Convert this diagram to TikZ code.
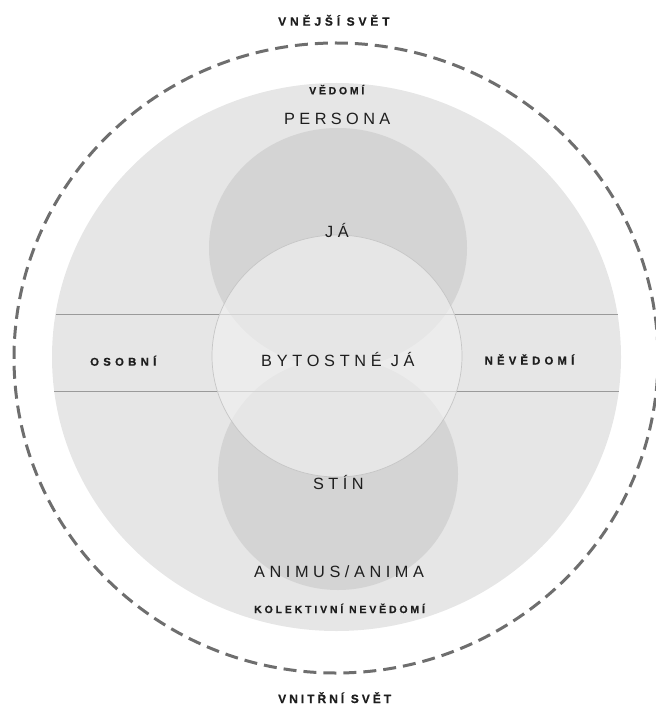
\documentclass[tikz,border=0pt]{standalone}
\usepackage{fontspec}
\setmainfont{Liberation Sans}
\definecolor{bigc}{HTML}{E6E6E6}
\definecolor{darkc}{HTML}{D4D4D4}
\definecolor{midc}{HTML}{F0F0F0}
\definecolor{midline}{HTML}{C6C6C6}
\definecolor{dashc}{HTML}{6E6E6E}
\definecolor{txt}{HTML}{1E1E1E}
\definecolor{linec}{HTML}{9A9A9A}
\tikzset{
  smallbold/.style={text=txt, anchor=base west, inner sep=0pt},
  bigtext/.style={text=txt, anchor=base west, inner sep=0pt},
  divider/.style={draw=linec, line width=0.9pt},
  ring/.style={draw=dashc, line width=3pt, dash pattern=on 13pt off 7pt}
}
\newcommand\wsp{\kern0.55em\relax}
\begin{document}
\begin{tikzpicture}[x=1pt,y=-1pt]
\useasboundingbox (0,0) rectangle (655,711);
% big circle
\fill[bigc] (336.5,357) ellipse [x radius=284.5, y radius=274];
% upper and lower circles
\fill[darkc] (338,248) ellipse [x radius=129, y radius=120];
\fill[darkc] (338,474) ellipse [x radius=120, y radius=116];
% dividers
\draw[divider] (55.5,314) -- (617.5,314);
\draw[divider] (54.2,391) -- (618.8,391);
% middle circle
\filldraw[fill=midc, fill opacity=0.65, draw=midline, line width=0.7pt] (337,356) ellipse [x radius=125, y radius=121];
% outer dashed ring
\draw[ring] (336,358) ellipse [x radius=322, y radius=315];
% texts
\node[smallbold, font=\fontsize{12}{14}\selectfont\bfseries\addfontfeature{LetterSpace=32,FakeBold=0.5}] (outer) at (278,25.7) {VNĚJŠÍ\wsp SVĚT};
\node[smallbold, font=\fontsize{10.5}{12}\selectfont\bfseries\addfontfeature{LetterSpace=26,FakeBold=0.5}] (vedomi) at (309,94.3) {VĚDOMÍ};
\node[bigtext, font=\fontsize{16.3}{19}\selectfont\addfontfeature{LetterSpace=27}] (persona) at (284,124.3) {PERSONA};
\node[bigtext, font=\fontsize{16.3}{19}\selectfont\addfontfeature{LetterSpace=27}] (ja) at (325,237) {JÁ};
\node[smallbold, font=\fontsize{11.3}{12}\selectfont\bfseries\addfontfeature{LetterSpace=38,FakeBold=0.5}] (osobni) at (90,365.7) {OSOBNÍ};
\node[bigtext, font=\fontsize{16.3}{19}\selectfont\addfontfeature{LetterSpace=29}] (self) at (261,366) {BYTOSTNÉ\wsp JÁ};
\node[smallbold, font=\fontsize{11.3}{12}\selectfont\bfseries\addfontfeature{LetterSpace=37,FakeBold=0.5}] (nevedomi) at (484.5,364.5) {NĚVĚDOMÍ};
\node[bigtext, font=\fontsize{16.3}{19}\selectfont\addfontfeature{LetterSpace=27}] (stin) at (313,489) {STÍN};
\node[bigtext, font=\fontsize{16.3}{19}\selectfont\addfontfeature{LetterSpace=28}] (anima) at (254,577) {ANIMUS/ANIMA};
\node[smallbold, font=\fontsize{10.5}{12}\selectfont\bfseries\addfontfeature{LetterSpace=27,FakeBold=0.5}] (kolekt) at (254,613) {KOLEKTIVNÍ\wsp NEVĚDOMÍ};
\node[smallbold, font=\fontsize{12}{14}\selectfont\bfseries\addfontfeature{LetterSpace=25,FakeBold=0.5}] (inner) at (278,703) {VNITŘNÍ\wsp SVĚT};
\end{tikzpicture}
\end{document}
